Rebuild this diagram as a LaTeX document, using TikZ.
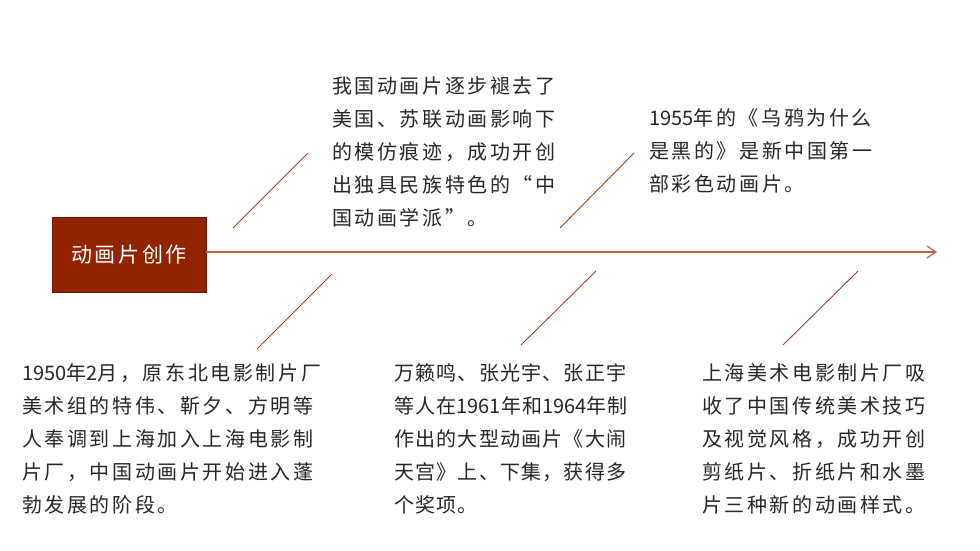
\documentclass[tikz,border=0pt]{standalone}
\usepackage{fontspec}
\setmainfont{Noto Sans CJK SC}
\newfontfamily\cjkwide[LetterSpace=13]{Noto Sans CJK SC}
\newfontfamily\cjktight[LetterSpace=6]{Noto Sans CJK SC}
\newfontfamily\cjkplain{Noto Sans CJK SC}
\newcommand\digs[1]{{\cjkplain #1}}
\usetikzlibrary{arrows.meta}
\definecolor{boxred}{RGB}{146,36,0}
\definecolor{boxedge}{RGB}{110,25,0}
\definecolor{axisred}{RGB}{188,100,80}
\definecolor{diagred}{RGB}{170,62,40}
\definecolor{txt}{RGB}{38,38,38}
\tikzset{
  titlebox/.style={draw=boxedge, line width=0.8pt, fill=boxred, text=white,
    minimum width=154pt, minimum height=75pt, inner sep=0pt,
    font=\cjkwide\fontsize{21}{25}\selectfont},
  axisline/.style={draw=axisred, line width=1.6pt, -{Straight Barb[length=9pt,width=12pt,line width=1.2pt]}},
  diag/.style={draw=diagred, line width=0.9pt},
  desc/.style={anchor=base west, inner sep=0pt, align=left, text=txt,
    font=\cjkwide\fontsize{20}{33}\selectfont},
  desctight/.style={desc, font=\cjktight\fontsize{20}{33}\selectfont}
}
\begin{document}
\begin{tikzpicture}[x=1pt,y=-1pt]
\useasboundingbox (0,0) rectangle (980,551);

\node[titlebox] (title) at (129,254.5) {动画片创作};
\coordinate (tip) at (937,252);
\draw[axisline] (title.east |- tip) -- (tip);

% diagonal ticks
\coordinate (d1a) at (233,228); \coordinate (d1b) at (308,153);
\coordinate (d2a) at (257,349); \coordinate (d2b) at (332,274);
\coordinate (d3a) at (560,228); \coordinate (d3b) at (634,153);
\coordinate (d4a) at (521,345); \coordinate (d4b) at (596,271);
\coordinate (d5a) at (783,345); \coordinate (d5b) at (858,271);
\draw[diag] (d1a) -- (d1b);
\draw[diag] (d2a) -- (d2b);
\draw[diag] (d3a) -- (d3b);
\draw[diag] (d4a) -- (d4b);
\draw[diag] (d5a) -- (d5b);

% anchors are at the baseline of the last line
\node[desc] (t1) at (332,225.6) {我国动画片逐步褪去了\\美国、苏联动画影响下\\的模仿痕迹，成功开创\\出独具民族特色的“中\\国动画学派”。};
\node[desc] (t2) at (649,191) {\digs{1955}年的《乌鸦为什么\\是黑的》是新中国第一\\部彩色动画片。};
\node[desc] (b1) at (22,512.6) {\digs{1950}年\digs{2}月，原东北电影制片厂\\美术组的特伟、靳夕、方明等\\人奉调到上海加入上海电影制\\片厂，中国动画片开始进入蓬\\勃发展的阶段。};
\node[desctight] (b2) at (394,512.6) {万籁鸣、张光宇、张正宇\\等人在\digs{1961}年和\digs{1964}年制\\作出的大型动画片《大闹\\天宫》上、下集，获得多\\个奖项。};
\node[desc] (b3) at (702,512.6) {上海美术电影制片厂吸\\收了中国传统美术技巧\\及视觉风格，成功开创\\剪纸片、折纸片和水墨\\片三种新的动画样式。};
\end{tikzpicture}
\end{document}
